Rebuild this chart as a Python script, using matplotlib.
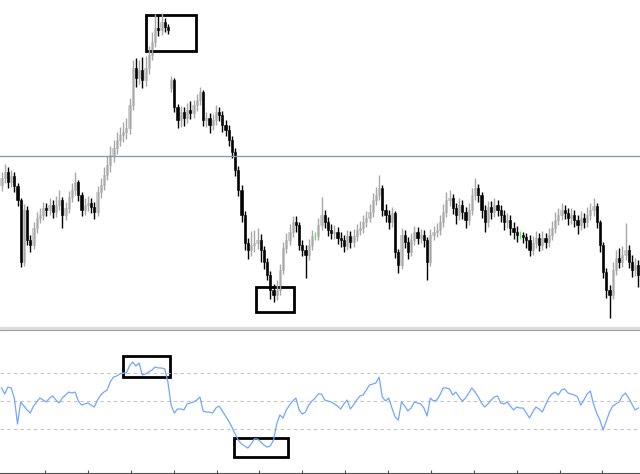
import matplotlib
matplotlib.use("Agg")
import matplotlib.pyplot as plt
import matplotlib.patches as patches
import numpy as np

# price bars (arbitrary price units)
opens = [
    145, 152, 158, 148, 154, 144, 130, 68, 120, 90,
    85, 102, 112, 115, 122, 120, 125, 118, 125, 130,
    115, 122, 133, 140, 148, 135, 120, 125, 127, 123,
    118, 138, 145, 155, 165, 175, 182, 190, 195, 198,
    202, 225, 262, 252, 260, 250, 262, 275, 288, 302,
    300, 308, 303, 242, 250, 223, 210, 218, 212, 220,
    217, 225, 230, 238, 210, 212, 205, 210, 218, 215,
    205, 200, 190, 178, 160, 140, 115, 87, 80, 85,
    87, 90, 80, 68, 55, 40, 35, 40, 60, 82,
    90, 98, 108, 105, 85, 80, 75, 85, 94, 94,
    105, 115, 108, 100, 97, 98, 92, 90, 84, 94,
    88, 94, 100, 102, 108, 112, 118, 130, 135, 142,
    120, 115, 108, 117, 78, 65, 95, 88, 78, 90,
    98, 92, 95, 90, 68, 95, 98, 100, 108, 118,
    130, 132, 122, 115, 125, 118, 110, 120, 135, 142,
    135, 120, 108, 123, 118, 125, 120, 115, 108, 110,
    102, 98, 95, 95, 93, 90, 80, 87, 92, 85,
    92, 88, 95, 102, 110, 115, 120, 117, 112, 115,
    110, 105, 112, 108, 115, 120, 124, 108, 85, 58,
    40, 35, 60, 72, 68, 75, 80, 68, 60, 65,
]
highs = [
    158, 166, 163, 160, 158, 147, 132, 126, 124, 95,
    108, 118, 122, 128, 127, 132, 130, 134, 140, 133,
    128, 139, 147, 158, 150, 138, 132, 134, 132, 128,
    144, 152, 163, 174, 184, 190, 198, 203, 208, 212,
    232, 270, 272, 270, 273, 274, 284, 298, 316, 315,
    317, 312, 306, 254, 252, 226, 224, 223, 227, 229,
    230, 236, 243, 240, 218, 217, 216, 225, 223, 219,
    210, 205, 194, 182, 164, 145, 119, 92, 99, 100,
    102, 96, 84, 72, 59, 46, 50, 66, 88, 97,
    106, 114, 114, 108, 90, 85, 91, 100, 98, 112,
    133, 120, 113, 106, 105, 103, 98, 95, 100, 99,
    101, 106, 109, 115, 119, 126, 137, 143, 155, 145,
    126, 120, 123, 119, 81, 102, 100, 93, 97, 104,
    103, 101, 100, 93, 101, 104, 107, 115, 126, 138,
    140, 136, 127, 132, 130, 123, 127, 142, 152, 146,
    138, 125, 129, 129, 132, 130, 125, 120, 117, 115,
    108, 104, 99, 98, 97, 95, 94, 99, 97, 99,
    97, 102, 109, 118, 122, 127, 125, 122, 122, 120,
    115, 119, 117, 123, 127, 132, 127, 110, 88, 62,
    45, 68, 80, 82, 84, 107, 85, 75, 72, 70,
]
lows = [
    139, 147, 142, 143, 138, 124, 63, 64, 85, 78,
    81, 97, 107, 110, 114, 115, 112, 113, 120, 102,
    110, 117, 128, 135, 129, 114, 115, 119, 117, 111,
    114, 132, 140, 150, 158, 168, 176, 184, 188, 191,
    196, 220, 243, 246, 242, 244, 256, 270, 283, 294,
    295, 298, 296, 238, 218, 202, 203, 204, 207, 211,
    212, 219, 225, 204, 203, 197, 200, 205, 209, 198,
    194, 184, 172, 154, 134, 108, 80, 71, 74, 78,
    81, 68, 61, 50, 31, 28, 30, 35, 56, 77,
    85, 93, 98, 80, 74, 52, 70, 80, 90, 90,
    100, 102, 94, 91, 91, 86, 83, 78, 80, 82,
    83, 89, 95, 97, 103, 108, 113, 125, 130, 114,
    108, 101, 103, 72, 57, 61, 82, 71, 74, 85,
    86, 87, 83, 50, 64, 90, 93, 95, 103, 113,
    124, 116, 106, 110, 111, 102, 105, 115, 130, 128,
    112, 98, 103, 111, 113, 114, 108, 100, 102, 95,
    91, 88, 91, 87, 82, 74, 75, 82, 79, 80,
    82, 83, 90, 97, 105, 110, 111, 105, 106, 103,
    96, 100, 102, 103, 110, 114, 102, 78, 52, 32,
    12, 31, 55, 62, 63, 70, 62, 53, 54, 43,
]
closes = [
    152, 158, 148, 154, 144, 130, 68, 120, 90, 85,
    102, 112, 115, 122, 120, 125, 118, 125, 130, 115,
    122, 133, 140, 148, 135, 120, 125, 127, 123, 118,
    138, 145, 155, 165, 175, 182, 190, 195, 198, 202,
    225, 262, 252, 260, 250, 262, 275, 288, 302, 300,
    308, 303, 300, 250, 223, 210, 218, 212, 220, 217,
    225, 230, 238, 210, 212, 205, 210, 218, 215, 205,
    200, 190, 178, 160, 140, 115, 87, 80, 85, 87,
    90, 80, 68, 55, 40, 35, 40, 60, 82, 90,
    98, 108, 105, 85, 80, 75, 85, 94, 94, 105,
    115, 108, 100, 97, 98, 92, 90, 84, 94, 88,
    94, 100, 102, 108, 112, 118, 130, 135, 142, 120,
    115, 108, 117, 78, 65, 95, 88, 78, 90, 98,
    92, 95, 90, 68, 95, 98, 100, 108, 118, 130,
    132, 122, 115, 125, 118, 110, 120, 135, 142, 135,
    120, 108, 123, 118, 125, 120, 115, 108, 110, 102,
    98, 95, 95, 93, 90, 80, 87, 92, 85, 92,
    88, 95, 102, 110, 115, 120, 117, 112, 115, 110,
    105, 112, 108, 115, 120, 124, 108, 85, 58, 40,
    35, 60, 72, 68, 75, 80, 68, 60, 65, 55,
]

# oscillator in the lower window (0..100)
rsi = [
    59.3, 55.0, 60.0, 59.3, 52.1, 33.6, 49.3, 46.4, 43.6, 41.4,
    46.4, 49.3, 52.1, 50.7, 49.3, 52.1, 53.6, 50.7, 48.6, 52.1,
    54.3, 56.4, 55.7, 56.4, 50.0, 47.1, 47.9, 48.6, 47.1, 45.7,
    50.7, 54.3, 56.4, 57.9, 63.6, 67.1, 67.9, 69.3, 70.0, 70.0,
    75.0, 77.9, 75.0, 77.1, 68.6, 69.3, 70.7, 72.1, 74.3, 73.6,
    73.6, 72.9, 63.6, 47.1, 41.4, 44.3, 44.3, 43.6, 47.9, 48.6,
    49.3, 50.7, 52.9, 42.9, 42.1, 42.1, 41.4, 45.0, 46.4, 42.9,
    39.3, 35.7, 31.4, 26.4, 22.1, 19.3, 17.9, 16.4, 19.3, 22.9,
    22.9, 20.7, 18.6, 17.1, 17.9, 22.1, 33.6, 40.0, 37.9, 43.6,
    47.1, 50.0, 52.1, 43.6, 40.7, 42.1, 47.1, 50.0, 52.1, 55.0,
    55.0, 50.7, 50.0, 49.3, 47.9, 46.4, 44.3, 47.9, 50.7, 44.3,
    47.1, 50.7, 53.6, 54.3, 57.9, 61.4, 62.1, 62.9, 67.1, 52.9,
    50.0, 52.1, 45.0, 38.6, 36.4, 49.3, 46.4, 42.9, 45.0, 49.3,
    48.6, 47.9, 45.0, 39.3, 52.1, 50.0, 50.7, 54.3, 59.3, 59.3,
    58.6, 54.3, 56.4, 52.9, 50.0, 52.1, 55.7, 59.3, 56.4, 52.9,
    48.6, 45.7, 47.9, 50.7, 52.9, 53.6, 48.6, 47.9, 49.3, 46.4,
    43.6, 45.7, 45.0, 45.0, 41.4, 37.9, 42.1, 45.7, 44.3, 42.1,
    47.1, 52.1, 55.0, 56.4, 54.3, 57.9, 58.6, 55.7, 55.0, 54.3,
    52.9, 47.1, 50.7, 55.0, 57.1, 47.9, 41.4, 36.4, 29.3, 35.7,
    42.1, 46.4, 47.9, 49.3, 53.6, 55.7, 52.1, 47.9, 43.6, 45.0,
]

level_price = 174
rsi_levels = [70, 50, 30]

o = np.array(opens)
h = np.array(highs)
l = np.array(lows)
c = np.array(closes)
x = np.arange(len(c))

fig = plt.figure(figsize=(6.4, 4.74), dpi=100)
ax = fig.add_axes([0, 147 / 474, 1, 327 / 474])
ax2 = fig.add_axes([0, 1 / 474, 1, 143 / 474])

# 1) candles
up = c > o
dn = c < o
dj = c == o
ax.vlines(x[up], l[up], h[up], color='#a8a8a8', lw=1)
ax.bar(x[up], c[up] - o[up], bottom=o[up], width=0.65,
       color='#cfcfcf', edgecolor='#bdbdbd', lw=0.4)
ax.vlines(x[dn], l[dn], h[dn], color='black', lw=1)
ax.bar(x[dn], o[dn] - c[dn], bottom=c[dn], width=0.65,
       color='black', edgecolor='black', lw=0.4)
ax.vlines(x[dj], l[dj], h[dj], color='#66e066', lw=1)

ax.axhline(level_price, color='#8d99ae', lw=1)

ax.add_patch(patches.Rectangle((45.2, 279), 15.6, 36, fill=False, ec='black', lw=2))
ax.add_patch(patches.Rectangle((79.5, 18), 11.9, 25, fill=False, ec='black', lw=2))

ax.set_xlim(-0.47, 199.53)
ax.set_ylim(3, 330)
ax.set_xticks([])
ax.set_yticks([])
for s in ax.spines.values():
    s.set_visible(False)

# 2) oscillator window
for lv in rsi_levels:
    ax2.axhline(lv, color='#c4c4c4', lw=0.8, ls=(0, (3, 3)))
ax2.plot(x, rsi, color='#73a5ff', lw=0.9)

ax2.add_patch(patches.Rectangle((38.0, 67.1), 14.7, 15.0, fill=False, ec='black', lw=2))
ax2.add_patch(patches.Rectangle((72.7, 10.0), 16.8, 13.6, fill=False, ec='black', lw=2))

ax2.set_xlim(-0.47, 199.53)
ax2.set_ylim(-1.4, 100.7)
ax2.set_yticks([])
ax2.set_xticks(np.arange(13.6, 199, 13.4))
ax2.set_xticklabels([])
ax2.tick_params(axis='x', direction='inout', length=5, color='#505050')
ax2.spines['left'].set_visible(False)
ax2.spines['right'].set_visible(False)
ax2.spines['top'].set_color('#909090')
ax2.spines['bottom'].set_color('#505050')

# 3) grey strip between the two windows
fig.patches.append(patches.Rectangle((0, 145 / 474), 1, 2 / 474,
                                     transform=fig.transFigure, color='#dcdcdc', zorder=0))

fig.savefig('out.png', dpi=100)
